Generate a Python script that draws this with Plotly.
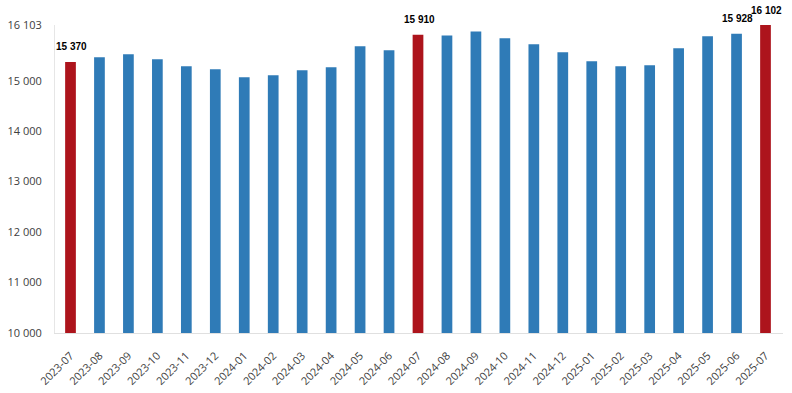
import plotly.graph_objects as go

months = ["2023-07","2023-08","2023-09","2023-10","2023-11","2023-12",
          "2024-01","2024-02","2024-03","2024-04","2024-05","2024-06",
          "2024-07","2024-08","2024-09","2024-10","2024-11","2024-12",
          "2025-01","2025-02","2025-03","2025-04","2025-05","2025-06","2025-07"]
values = [15370, 15465, 15525, 15426, 15287, 15228,
          15069, 15109, 15208, 15267, 15683, 15604,
          15910, 15895, 15974, 15842, 15723, 15564,
          15386, 15287, 15307, 15644, 15881, 15928, 16102]
highlight = ["2023-07", "2024-07", "2025-07"]
labeled = ["2023-07", "2024-07", "2025-06", "2025-07"]
ytick_vals = [10000, 11000, 12000, 13000, 14000, 15000, 16103]

def fmt(v):
    return f"{v:,}".replace(",", " ")

colors = ["#AD141C" if m in highlight else "#2F7BB7" for m in months]

fig = go.Figure(go.Bar(
    x=months, y=values, marker_color=colors,
    marker_line_width=0, cliponaxis=False,
))

for m, v in zip(months, values):
    if m in labeled:
        fig.add_annotation(
            x=m, y=v, text=f"<b>{fmt(v)}</b>", showarrow=False,
            yanchor="middle", yshift=15, xshift=1, borderpad=0,
            font=dict(family="Liberation Sans, Arial", size=10, color="#000000"),
        )

fig.update_layout(
    width=792, height=393,
    margin=dict(l=55, r=9, t=25, b=60, autoexpand=False),
    plot_bgcolor="white", paper_bgcolor="white",
    bargap=0.63,
    showlegend=False,
    font=dict(family="Open Sans, Liberation Sans", size=11, color="#404040"),
)
fig.update_yaxes(
    range=[10000, 16103], tickvals=ytick_vals,
    ticktext=[fmt(v) for v in ytick_vals],
    showgrid=False, zeroline=False,
    showline=True, linecolor="#E6E6E6", linewidth=1,
    ticks="", ticklabelstandoff=10, automargin=False,
)
fig.update_xaxes(
    type="category",
    tickangle=-45, showgrid=False,
    showline=True, linecolor="#E0E0E0", linewidth=1,
    ticks="", ticklabelstandoff=11, automargin=False,
)

fig.write_html("out.html", config={"displayModeBar": False},
               post_script="document.body.style.margin='0';")
